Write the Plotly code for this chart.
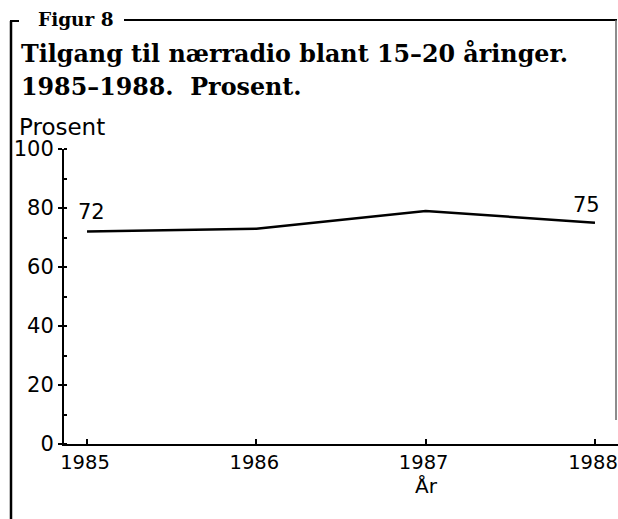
import plotly.graph_objects as go

years = [1985, 1986, 1987, 1988]
values = [72, 73, 79, 75]
label_years = [1985, 1988]
label_values = [72, 75]
y_ticks = [0, 20, 40, 60, 80, 100]
x_ticks = [1985, 1986, 1987, 1988]

W, H = 618, 519
L, R, T, B = 64, 0, 149, 519 - 444
PW, PH = W - L - R, H - T - B

def px(x):
    return (x - L) / PW

def py(y):
    return (H - B - y) / PH

fig = go.Figure()
fig.add_trace(go.Scatter(x=years, y=values, mode="lines",
                         line=dict(color="black", width=2.5),
                         hoverinfo="skip", showlegend=False, cliponaxis=False))

ann = []
for xv, yv in zip(label_years, label_values):
    ann.append(dict(x=xv, y=yv, xref="x", yref="y", text=str(yv),
                    showarrow=False, yshift=20 if xv == 1985 else 18,
                    xshift=4 if xv == 1985 else -8,
                    font=dict(family="DejaVu Sans", size=21, color="black")))

serif = "DejaVu Serif"
ann.append(dict(x=px(37), y=py(19), xref="paper", yref="paper", text="<b>Figur 8</b>",
                showarrow=False, xanchor="left", yanchor="middle", borderpad=0,
                font=dict(family=serif, size=18.5, color="black")))
ann.append(dict(x=px(19), y=py(54), xref="paper", yref="paper",
                text="<b>Tilgang til nærradio blant 15–20 åringer.</b>",
                showarrow=False, xanchor="left", yanchor="middle",
                font=dict(family=serif, size=23.8, color="black")))
ann.append(dict(x=px(19), y=py(87), xref="paper", yref="paper",
                text="<b>1985–1988.  Prosent.</b>",
                showarrow=False, xanchor="left", yanchor="middle",
                font=dict(family=serif, size=23.8, color="black")))
ann.append(dict(x=px(17), y=py(127), xref="paper", yref="paper", text="Prosent",
                showarrow=False, xanchor="left", yanchor="middle",
                font=dict(family="DejaVu Sans", size=23, color="black")))
ann.append(dict(x=px(426), y=py(486), xref="paper", yref="paper", text="År",
                showarrow=False, xanchor="center", yanchor="middle",
                font=dict(family="DejaVu Sans", size=20, color="black")))

shapes = [
    dict(type="line", xref="paper", yref="paper", x0=px(11), y0=py(21), x1=px(11), y1=py(519),
         line=dict(color="black", width=2.5)),
    dict(type="line", xref="paper", yref="paper", x0=px(10), y0=py(21), x1=px(19), y1=py(21),
         line=dict(color="black", width=2)),
    dict(type="line", xref="paper", yref="paper", x0=px(124), y0=py(20), x1=px(617), y1=py(20),
         line=dict(color="black", width=1.8)),
    dict(type="line", xref="paper", yref="paper", x0=px(616), y0=py(20), x1=px(616), y1=py(420),
         line=dict(color="#666", width=1.5)),
]

fig.update_layout(
    width=W, height=H,
    margin=dict(l=L, r=R, t=T, b=B, pad=0, autoexpand=False),
    paper_bgcolor="white", plot_bgcolor="white",
    annotations=ann, shapes=shapes,
    xaxis=dict(range=[1984.864, 1988.136], tickvals=x_ticks, ticktext=[str(v) for v in x_ticks],
               ticks="inside", ticklen=5, tickwidth=1.5, tickcolor="black", automargin=False,
               ticklabeloverflow="allow", ticklabelshift=-2,
               showline=True, linecolor="black", linewidth=2, showgrid=False, zeroline=False,
               tickfont=dict(family="DejaVu Sans", size=19.5, color="black")),
    yaxis=dict(range=[0, 100], tickvals=y_ticks, ticks="outside", ticklen=4, tickwidth=1.5,
               tickcolor="black", showline=True, linecolor="black", linewidth=2, automargin=False,
               showgrid=False, zeroline=False, ticklabeloverflow="allow",
               minor=dict(dtick=10, ticks="inside", ticklen=3, tickcolor="black", tickwidth=1.5, showgrid=False),
               tickfont=dict(family="DejaVu Sans", size=21, color="black")),
)

fig.write_html("out.html", config={"displayModeBar": False},
               post_script="document.body.style.margin='0';document.body.style.overflow='hidden';")
